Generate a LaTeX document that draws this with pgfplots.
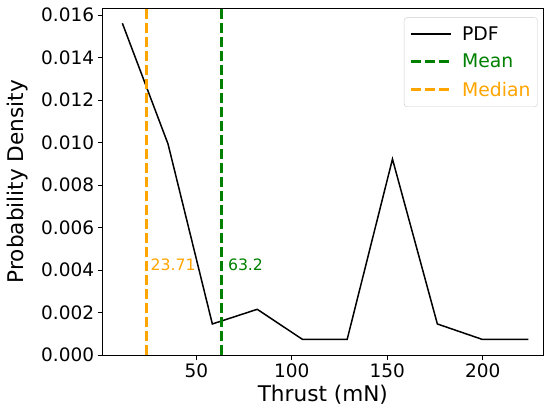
\documentclass[border=0pt]{standalone}
\usepackage{pgfplots}
\pgfplotsset{compat=1.18}
\usepackage{fontspec}
\setmainfont{DejaVu Sans}
\definecolor{mplgreen}{HTML}{008000}
\definecolor{mplorange}{HTML}{FFA500}

\begin{document}
\begin{tikzpicture}
\begin{axis}[
    scale only axis,
    width=440.3pt, height=347pt,
    xmin=1, xmax=231.5,
    ymin=0, ymax=0.01633,
    xtick={50,100,150,200},
    ytick={0,0.002,0.004,0.006,0.008,0.010,0.012,0.014,0.016},
    scaled y ticks=false,
    yticklabel style={/pgf/number format/.cd, fixed, fixed zerofill, precision=3},
    /pgf/number format/assume math mode=true,
    tick align=outside, tick pos=left,
    major tick length=5pt,
    every tick/.style={black, line width=0.8pt},
    axis line style={line width=0.8pt},
    ticklabel style={font=\fontsize{18.5}{20}\selectfont},
    xlabel={Thrust (mN)},
    ylabel={Probability Density},
    every axis x label/.style={at={(axis description cs:0.5,-0.1153)}, anchor=center,
        font=\fontsize{21.6}{24}\selectfont},
    every axis y label/.style={at={(axis description cs:-0.1924,0.5)}, rotate=90, anchor=center,
        font=\fontsize{21.6}{24}\selectfont},
    legend style={at={(0.988,0.973)}, anchor=north east, draw=black!20, rounded corners=3pt,
        font=\fontsize{18.8}{21}\selectfont, row sep=8.5pt, column sep=8pt,
        inner xsep=5pt, inner ysep=7pt},
    legend cell align=left,
    legend image code/.code={\draw[#1] (0pt,0pt) -- (40pt,0pt);},
]
% PDF curve
\addplot[black, line width=1.5pt] coordinates {
    (11.3,0.01561) (35.2,0.00993) (58.4,0.00146) (81.9,0.00215) (105.5,0.00074)
    (129.0,0.00074) (152.7,0.00922) (176.2,0.00146) (199.5,0.00074) (223.8,0.00074)
};
\addlegendentry{PDF}
% mean
\addplot[mplgreen, line width=3pt, dash pattern=on 10pt off 4pt] coordinates {(63.2,0) (63.2,0.01633)};
\addlegendentry{\textcolor{mplgreen}{Mean}}
% median
\addplot[mplorange, line width=3pt, dash pattern=on 10pt off 4pt] coordinates {(23.71,0) (23.71,0.01633)};
\addlegendentry{\textcolor{mplorange}{Median}}

\node[anchor=west, inner sep=0pt, text=mplorange, font=\fontsize{15.7}{17}\selectfont] at (axis cs:26,0.00424) {23.71};
\node[anchor=west, inner sep=0pt, text=mplgreen, font=\fontsize{15.7}{17}\selectfont] at (axis cs:66.5,0.00424) {63.2};
\end{axis}
\pgfresetboundingbox
\useasboundingbox ([xshift=-102.7pt,yshift=-57pt]current axis.south west) rectangle ([xshift=2pt,yshift=8pt]current axis.north east);
\end{tikzpicture}
\end{document}
